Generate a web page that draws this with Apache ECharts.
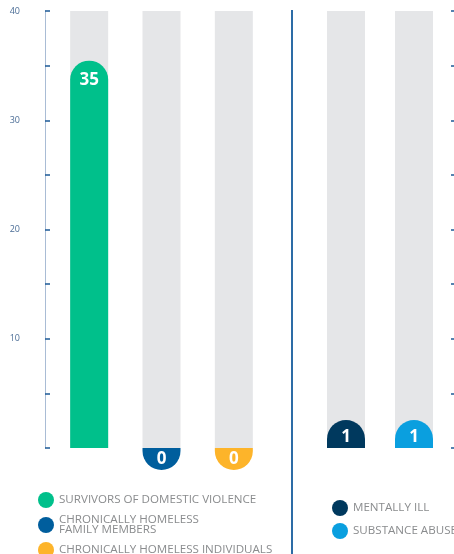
<!DOCTYPE html>
<html>
<head>
<meta charset="utf-8">
<script src="https://cdn.jsdelivr.net/npm/echarts@6/dist/echarts.min.js"></script>
<style>
  html, body { margin: 0; padding: 0; background: #fff; }
  #chart { width: 454px; height: 554px; }
</style>
</head>
<body>
<div id="chart"></div>
<script>
// 数据
const leftNames = ['SURVIVORS OF DOMESTIC VIOLENCE', 'CHRONICALLY HOMELESS\nFAMILY MEMBERS', 'CHRONICALLY HOMELESS INDIVIDUALS']
const leftValues = [35, 0, 0]
const rightNames = ['MENTALLY ILL', 'SUBSTANCE ABUSE']
const rightValues = [1, 1]
const axisMax = 40
const leftColors = ['#00c08b', '#005e9d', '#fdb42a']
const rightColors = ['#00395e', '#0a9fdf']

const BAR_W = 38
const FONT = '"Open Sans", "Noto Sans", sans-serif'

// 彩色柱子：圆头，0 值画在基线下方
function renderCap (params, api) {
  const idx = api.value(0)
  const val = api.value(1)
  const base = api.coord([idx, 0])
  const top = api.coord([idx, val])
  const r = BAR_W / 2
  const x = base[0] - r
  const color = api.visual('color')
  const textStyle = { fill: '#fff', font: 'bold 17px ' + FONT, align: 'center', verticalAlign: 'middle' }
  if (val === 0) {
    return {
      type: 'group',
      children: [
        { type: 'rect', shape: { x: x, y: base[1], width: BAR_W, height: 22, r: [0, 0, r, r] }, style: { fill: color } },
        { type: 'text', x: base[0], y: base[1] + 11, style: Object.assign({ text: String(val) }, textStyle) }
      ]
    }
  }
  // 顶部圆头稍微高出数值一点
  const h = Math.max(base[1] - top[1] + 5, 28)
  const y = base[1] - h
  return {
    type: 'group',
    children: [
      { type: 'rect', shape: { x: x, y: y, width: BAR_W, height: h, r: [r, r, 0, 0] }, style: { fill: color } },
      { type: 'text', x: base[0], y: y + Math.min(20, h * 0.6), style: Object.assign({ text: String(val) }, textStyle) }
    ]
  }
}

function capSeries (names, values, colors, gridIdx) {
  return names.map((name, i) => ({
    name: name,
    type: 'custom',
    xAxisIndex: gridIdx,
    yAxisIndex: gridIdx,
    color: colors[i],
    renderItem: renderCap,
    encode: { x: 0, y: 1 },
    data: [[i, values[i]]],
    z: 3
  }))
}

function bgSeries (names, gridIdx) {
  return {
    type: 'bar',
    xAxisIndex: gridIdx,
    yAxisIndex: gridIdx,
    barWidth: BAR_W,
    silent: true,
    itemStyle: { color: '#e5e6e8' },
    data: names.map(() => axisMax),
    z: 1
  }
}

const legendText = { color: '#8a8c8e', fontSize: 11.6, fontFamily: FONT, lineHeight: 10 }

const option = {
  animation: false,
  grid: [
    { left: 53, top: 11, width: 217, bottom: 106 },
    { left: 312, top: 11, width: 136, bottom: 106 }
  ],
  xAxis: [0, 1].map(g => ({
    type: 'category',
    gridIndex: g,
    data: g === 0 ? leftNames : rightNames,
    axisLine: { show: false },
    axisTick: { show: false },
    axisLabel: { show: false }
  })),
  yAxis: [
    {
      gridIndex: 0,
      type: 'value',
      min: 0,
      max: axisMax,
      interval: 5,
      offset: 8,
      splitLine: { show: false },
      axisLine: { show: true, lineStyle: { color: '#a9bcd5', width: 1 } },
      axisTick: { show: true, inside: true, length: 5, lineStyle: { color: '#1d5a97', width: 1.5 } },
      axisLabel: {
        margin: 25,
        color: '#4b6d96',
        fontSize: 9,
        fontFamily: FONT,
        formatter: v => (v % 10 === 0 && v > 0) ? String(v) : ''
      }
    },
    {
      gridIndex: 1,
      type: 'value',
      position: 'right',
      min: 0,
      max: axisMax,
      interval: 5,
      offset: 8,
      splitLine: { show: false },
      axisLine: { show: false },
      axisTick: { show: true, inside: true, length: 5, lineStyle: { color: '#1d5a97', width: 1.5 } },
      axisLabel: { show: false }
    }
  ],
  legend: [
    {
      data: leftNames,
      orient: 'vertical',
      left: 38,
      top: 492,
      height: 80,
      padding: 0,
      icon: 'circle',
      itemWidth: 16,
      itemHeight: 16,
      itemGap: 6,
      selectedMode: false,
      textStyle: legendText
    },
    {
      data: rightNames,
      orient: 'vertical',
      left: 332,
      top: 500,
      height: 80,
      padding: 0,
      icon: 'circle',
      itemWidth: 16,
      itemHeight: 16,
      itemGap: 7,
      selectedMode: false,
      textStyle: legendText
    }
  ],
  // 中间分隔线
  graphic: [
    {
      type: 'line',
      shape: { x1: 292, y1: 10, x2: 292, y2: 554 },
      style: { stroke: '#2d6ca6', lineWidth: 2 }
    }
  ],
  series: [
    bgSeries(leftNames, 0),
    bgSeries(rightNames, 1)
  ].concat(capSeries(leftNames, leftValues, leftColors, 0), capSeries(rightNames, rightValues, rightColors, 1))
}

const myChart = echarts.init(document.getElementById('chart'))
myChart.setOption(option)
</script>
</body>
</html>
